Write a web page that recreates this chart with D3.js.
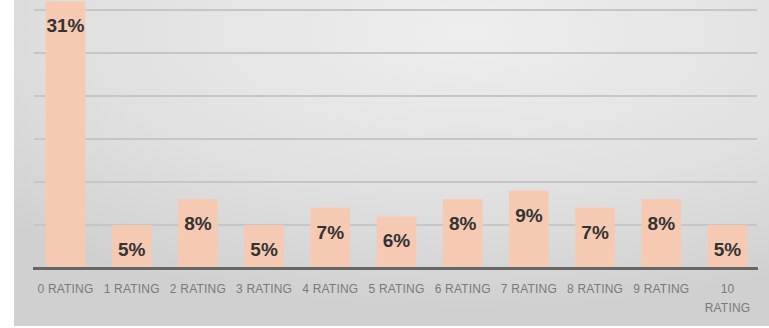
<!DOCTYPE html>
<html>
<head>
<meta charset="utf-8">
<script src="https://cdn.jsdelivr.net/npm/d3@7/dist/d3.min.js"></script>
<style>
  html, body { margin: 0; padding: 0; background: #fff; }
  svg { display: block; }
  .cat-label { font-family: "Liberation Sans Narrow", "Liberation Sans", Arial, sans-serif; font-size: 12px; fill: #7a7a7a; letter-spacing: 0.2px; }
  .val-label { font-family: "Liberation Sans", Arial, sans-serif; font-size: 19px; font-weight: bold; fill: #333; }
</style>
</head>
<body>
<div id="chart"></div>
<script>
// ratings distribution, values in percent
const categories = ["0 RATING", "1 RATING", "2 RATING", "3 RATING", "4 RATING", "5 RATING",
                    "6 RATING", "7 RATING", "8 RATING", "9 RATING", "10 RATING"];
const shares = [31, 5, 8, 5, 7, 6, 8, 9, 7, 8, 5];
const gridTicks = [5, 10, 15, 20, 25, 30];

const W = 769, H = 328;

const svg = d3.select("#chart").append("svg")
  .attr("width", W).attr("height", H);

// panel background: soft grey gradient, lighter towards the top right
const defs = svg.append("defs");
const bg = defs.append("radialGradient").attr("id", "bg")
  .attr("cx", "60%").attr("cy", "10%").attr("r", "85%");
bg.append("stop").attr("offset", "0%").attr("stop-color", "#eeeeee");
bg.append("stop").attr("offset", "60%").attr("stop-color", "#e0e0e0");
bg.append("stop").attr("offset", "100%").attr("stop-color", "#d0d0d0");

svg.append("rect").attr("x", 14).attr("y", 0)
  .attr("width", W - 14).attr("height", H - 2)
  .attr("fill", "url(#bg)");

const x = d3.scaleBand().domain(categories).range([32.4, 760.6]).paddingInner(0.4).paddingOuter(0.2);
const y = d3.scaleLinear().domain([0, 30]).range([268, 10]);

// gridlines
svg.append("g")
  .selectAll("line")
  .data(gridTicks)
  .join("line")
    .attr("x1", 34).attr("x2", 757)
    .attr("y1", d => y(d)).attr("y2", d => y(d))
    .attr("stroke", "#c6c6c6").attr("stroke-width", 2);

// bars
svg.append("g")
  .selectAll("rect")
  .data(shares)
  .join("rect")
    .attr("x", (d, i) => x(categories[i]))
    .attr("width", x.bandwidth())
    .attr("y", d => y(d))
    .attr("height", d => y(0) - y(d))
    .attr("fill", "#f6c9b3");

// baseline
svg.append("line")
  .attr("x1", 33).attr("x2", 758)
  .attr("y1", y(0) + 0.5).attr("y2", y(0) + 0.5)
  .attr("stroke", "#666").attr("stroke-width", 3);

// value labels
svg.append("g")
  .selectAll("text")
  .data(shares)
  .join("text")
    .attr("class", "val-label")
    .attr("x", (d, i) => x(categories[i]) + x.bandwidth() / 2)
    .attr("y", d => y(d) + 31)
    .attr("text-anchor", "middle")
    .text(d => d + "%");

// category labels (long ones wrap onto two lines)
const cat = svg.append("g")
  .selectAll("text")
  .data(categories)
  .join("text")
    .attr("class", "cat-label")
    .attr("x", d => x(d) + x.bandwidth() / 2)
    .attr("y", 293)
    .attr("text-anchor", "middle");

cat.each(function (d) {
  const t = d3.select(this);
  if (d.length > 8) {
    const parts = d.split(" ");
    t.append("tspan").attr("x", x(d) + x.bandwidth() / 2).attr("dy", 0).text(parts[0]);
    t.append("tspan").attr("x", x(d) + x.bandwidth() / 2).attr("dy", 19).text(parts[1]);
  } else {
    t.text(d);
  }
});
</script>
</body>
</html>
